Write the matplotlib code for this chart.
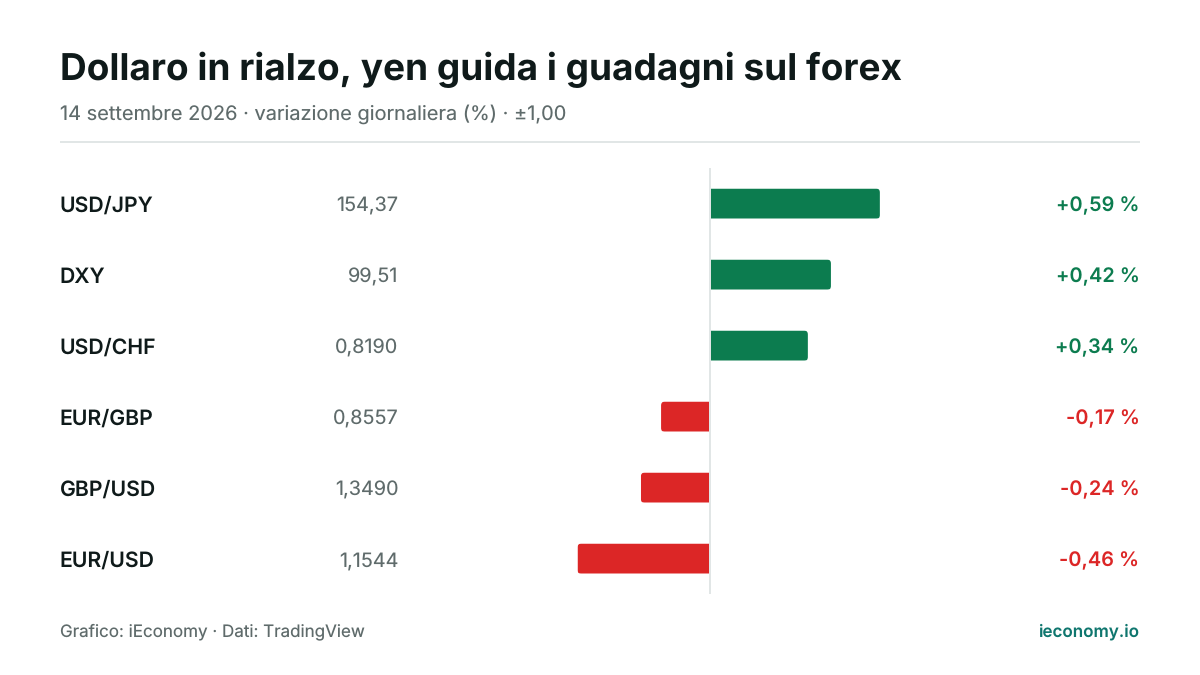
import matplotlib
matplotlib.use("Agg")
import matplotlib.pyplot as plt
from matplotlib.patches import FancyBboxPatch
from matplotlib.transforms import IdentityTransform, blended_transform_factory

pairs = ["USD/JPY", "DXY", "USD/CHF", "EUR/GBP", "GBP/USD", "EUR/USD"]
prices = ["154,37", "99,51", "0,8190", "0,8557", "1,3490", "1,1544"]
changes = [0.59, 0.42, 0.34, -0.17, -0.24, -0.46]
change_labels = ["+0,59 %", "+0,42 %", "+0,34 %", "-0,17 %", "-0,24 %", "-0,46 %"]

title = "Dollaro in rialzo, yen guida i guadagni sul forex"
subtitle = "14 settembre 2026 · variazione giornaliera (%) · ±1,00"
source = "Grafico: iEconomy · Dati: TradingView"
brand = "ieconomy.io"

GREEN = "#0c7c4f"
RED = "#dc2626"
DARK = "#0f1a1a"
GREY = "#5f6b6b"
RULE = "#e1e6e6"
TEAL = "#0f766e"

W, H = 1200, 675
plt.rcParams["font.family"] = ["Inter", "DejaVu Sans"]
plt.rcParams["text.hinting"] = "no_hinting"
plt.rcParams["text.hinting_factor"] = 1

fig = plt.figure(figsize=(W / 100, H / 100), dpi=100, facecolor="white")
# plot area in px: x 422-998, y 168-594
ax = fig.add_axes([422 / W, 1 - 594 / H, 576 / W, 426 / H])
ax.set_xlim(-1, 1)
ax.set_ylim(5.5, -0.5)
ax.axis("off")


def px(size):
    return size * 0.72


def top(x, y, s, size, color, weight="normal", ha="left"):
    fig.text(x / W, 1 - y / H, s, fontsize=px(size), color=color, fontweight=weight,
             ha=ha, va="baseline")


bars = ax.barh(range(len(pairs)), changes, height=30 / 71,
               color=[GREEN if c > 0 else RED for c in changes], linewidth=0, zorder=2)
fig.canvas.draw()

# round only the outer end of each bar
for bar in bars:
    bar.set_snap(False)
    bb = bar.get_window_extent()
    x0 = bb.x0 - 16 if bar.get_width() > 0 else bb.x0
    clip = FancyBboxPatch((x0, bb.y0 - 0.5), bb.width + 16, bb.height + 0.5,
                          boxstyle="round,pad=0,rounding_size=4",
                          transform=IdentityTransform())
    bar.set_clip_path(clip)

ax.plot([0, 0], [-0.5, 5.5], color=RULE, lw=px(2), zorder=3, solid_capstyle="butt")

row = blended_transform_factory(fig.transFigure, ax.transData)


def row_text(x, i, s, size, color, weight="normal", ha="left"):
    ax.annotate(s, xy=(x / W, i), xycoords=row, xytext=(0, px(-8)), textcoords="offset points",
                fontsize=px(size), fontweight=weight, color=color, ha=ha, va="baseline")


for i in range(len(pairs)):
    color = GREEN if changes[i] > 0 else RED
    row_text(59.5, i, pairs[i], 21.2, DARK, "semibold")
    row_text(398.5, i, prices[i], 19.8, GREY, ha="right")
    row_text(1139.5, i, change_labels[i], 20, color, "semibold", ha="right")

top(60, 80, title, 37, DARK, "bold")
top(60, 120, subtitle, 20, GREY)
top(60, 636, source, 17, GREY)
top(1139, 636, brand, 17, TEAL, "semibold", ha="right")

fig.add_artist(plt.Line2D([60 / W, 1140 / W], [1 - 142 / H, 1 - 142 / H], color=RULE, lw=px(2),
                          solid_capstyle="butt"))

fig.savefig("out.png", dpi=100)
